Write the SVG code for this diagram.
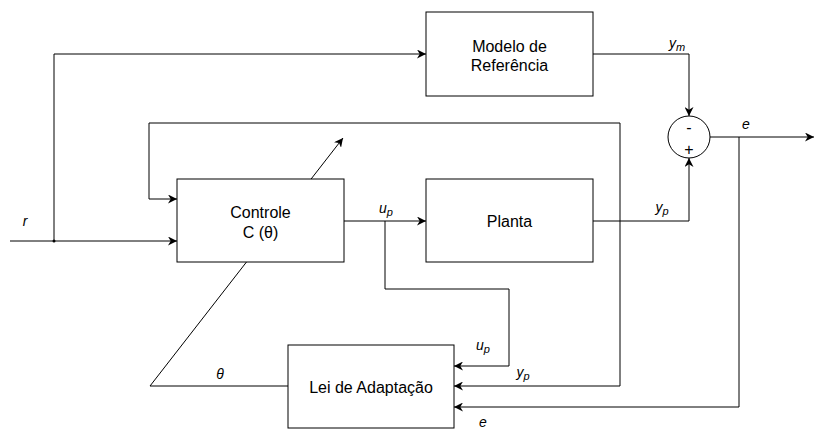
<svg xmlns="http://www.w3.org/2000/svg" width="814" height="432" viewBox="0 0 814 432">
<style>
.box{fill:#fff;stroke:#000;stroke-width:1}
.ln{fill:none;stroke:#000;stroke-width:1}
.t{font-family:"Liberation Sans",Arial,sans-serif;font-size:16px;fill:#000;text-anchor:middle}
.l{font-family:"Liberation Sans",Arial,sans-serif;font-size:14px;font-style:italic;fill:#000;text-anchor:middle}
.s{font-size:11px}
</style>
<defs>
<marker id="a" viewBox="0 0 10 10" refX="10" refY="5" markerWidth="9" markerHeight="9" markerUnits="userSpaceOnUse" orient="auto">
<path d="M0,0 L10,5 L0,10 L3,5 Z" fill="#000"/>
</marker>
</defs>
<g id="connectors">
<path class="ln" d="M150,386 L343,138" marker-end="url(#a)"/>
<path class="ln" d="M10,241 L177,241" marker-end="url(#a)"/>
<circle cx="54" cy="241" r="1.5" fill="#000"/>
<path class="ln" d="M54,241 L54,54 L426,54" marker-end="url(#a)"/>
<path class="ln" d="M593,54 L689,54 L689,116" marker-end="url(#a)"/>
<path class="ln" d="M593,221 L689,221 L689,158" marker-end="url(#a)"/>
<path class="ln" d="M344,221 L426,221" marker-end="url(#a)"/>
<path class="ln" d="M385,221 L385,289 L509,289 L509,366 L454,366" marker-end="url(#a)"/>
<path class="ln" d="M710,137 L814,137" marker-end="url(#a)"/>
<path class="ln" d="M739,137 L739,407 L454,407" marker-end="url(#a)"/>
<path class="ln" d="M620,221 L620,386 L454,386" marker-end="url(#a)"/>
<path class="ln" d="M620,221 L620,123 L149,123 L149,199 L177,199" marker-end="url(#a)"/>
<path class="ln" d="M288,386 L150,386"/>
</g>
<g id="modelo">
<rect class="box" x="426" y="12" width="167" height="84"/>
<text class="t" x="509.5" y="52">Modelo de</text>
<text class="t" x="509.5" y="71">Referência</text>
</g>
<g id="controle">
<rect class="box" x="177" y="179" width="167" height="83"/>
<text class="t" x="260.5" y="218">Controle</text>
<text class="t" x="260.5" y="238">C (θ)</text>
</g>
<g id="planta">
<rect class="box" x="426" y="179" width="167" height="83"/>
<text class="t" x="509.5" y="227">Planta</text>
</g>
<g id="lei">
<rect class="box" x="288" y="345" width="166" height="83"/>
<text class="t" x="371" y="393">Lei de Adaptação</text>
</g>
<g id="soma">
<circle class="box" cx="689" cy="137" r="21"/>
<text class="t" x="689" y="133" font-size="13">-</text>
<text class="t" x="689" y="155" font-size="13">+</text>
</g>
<g id="labels">
<text class="l" x="25" y="226">r</text>
<text class="l" x="677" y="48">y<tspan class="s" dy="3">m</tspan></text>
<text class="l" x="662" y="212">y<tspan class="s" dy="3">p</tspan></text>
<text class="l" x="746" y="129">e</text>
<text class="l" x="386" y="213">u<tspan class="s" dy="3">p</tspan></text>
<text class="l" x="483" y="350">u<tspan class="s" dy="3">p</tspan></text>
<text class="l" x="523" y="377">y<tspan class="s" dy="3">p</tspan></text>
<text class="l" x="220" y="379">θ</text>
<text class="l" x="483" y="427" font-size="13">e</text>
</g>
</svg>
